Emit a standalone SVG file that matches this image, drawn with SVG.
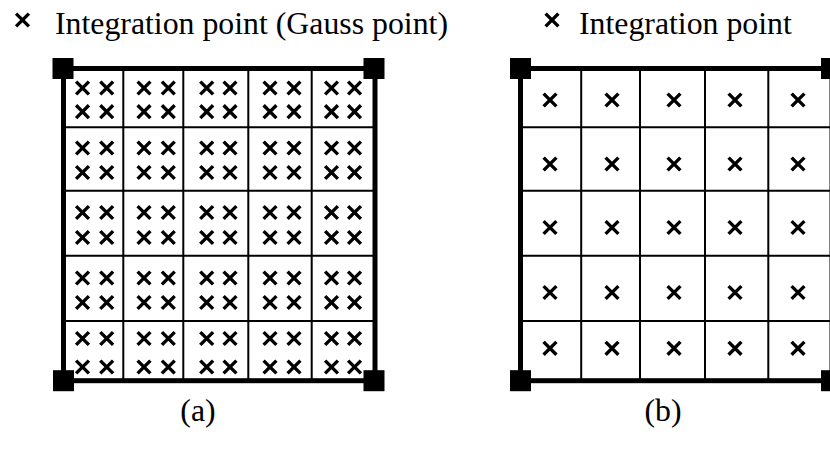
<svg xmlns="http://www.w3.org/2000/svg" xmlns:xlink="http://www.w3.org/1999/xlink" width="830" height="450" viewBox="0 0 830 450">
<style>
.lbl{font-family:"Liberation Serif","Times New Roman",serif;font-size:31.8px;fill:#000}
.frame{fill:none;stroke:#000;stroke-width:5}
.grid{stroke:#000;stroke-width:2;fill:none}
.node{fill:#000}
</style>
<defs>
<path id="x" d="M-6.4,-6.4L6.4,6.4M6.4,-6.4L-6.4,6.4" stroke="#000" stroke-width="3.4" fill="none"/>
</defs>
<rect width="830" height="450" fill="#fff"/>
<g id="legend-a">
<use href="#x" x="22.5" y="20"/>
<text class="lbl" x="55" y="34">Integration point (Gauss point)</text>
</g>
<g id="legend-b">
<use href="#x" x="552" y="20"/>
<text class="lbl" x="579" y="34">Integration point</text>
</g>
<g id="panel-a">
<g class="grid">
<path d="M123.3,68.5V380.7M183.3,68.5V380.7M248.3,68.5V380.7M311.7,68.5V380.7M63.5,127.3H375M63.5,190.7H375M63.5,255.7H375M63.5,321H375"/>
</g>
<g id="gauss-points">
<g id="ra1"><use href="#x" x="82.5" y="88"/><use href="#x" x="106.7" y="88"/><use href="#x" x="144" y="88"/><use href="#x" x="168.3" y="88"/><use href="#x" x="206.7" y="88"/><use href="#x" x="230" y="88"/><use href="#x" x="270" y="88"/><use href="#x" x="294" y="88"/><use href="#x" x="331.5" y="88"/><use href="#x" x="354.5" y="88"/></g>
<g id="ra2"><use href="#x" x="82.5" y="111.7"/><use href="#x" x="106.7" y="111.7"/><use href="#x" x="144" y="111.7"/><use href="#x" x="168.3" y="111.7"/><use href="#x" x="206.7" y="111.7"/><use href="#x" x="230" y="111.7"/><use href="#x" x="270" y="111.7"/><use href="#x" x="294" y="111.7"/><use href="#x" x="331.5" y="111.7"/><use href="#x" x="354.5" y="111.7"/></g>
<g id="ra3"><use href="#x" x="82.5" y="148"/><use href="#x" x="106.7" y="148"/><use href="#x" x="144" y="148"/><use href="#x" x="168.3" y="148"/><use href="#x" x="206.7" y="148"/><use href="#x" x="230" y="148"/><use href="#x" x="270" y="148"/><use href="#x" x="294" y="148"/><use href="#x" x="331.5" y="148"/><use href="#x" x="354.5" y="148"/></g>
<g id="ra4"><use href="#x" x="82.5" y="172.5"/><use href="#x" x="106.7" y="172.5"/><use href="#x" x="144" y="172.5"/><use href="#x" x="168.3" y="172.5"/><use href="#x" x="206.7" y="172.5"/><use href="#x" x="230" y="172.5"/><use href="#x" x="270" y="172.5"/><use href="#x" x="294" y="172.5"/><use href="#x" x="331.5" y="172.5"/><use href="#x" x="354.5" y="172.5"/></g>
<g id="ra5"><use href="#x" x="82.5" y="212.5"/><use href="#x" x="106.7" y="212.5"/><use href="#x" x="144" y="212.5"/><use href="#x" x="168.3" y="212.5"/><use href="#x" x="206.7" y="212.5"/><use href="#x" x="230" y="212.5"/><use href="#x" x="270" y="212.5"/><use href="#x" x="294" y="212.5"/><use href="#x" x="331.5" y="212.5"/><use href="#x" x="354.5" y="212.5"/></g>
<g id="ra6"><use href="#x" x="82.5" y="237.5"/><use href="#x" x="106.7" y="237.5"/><use href="#x" x="144" y="237.5"/><use href="#x" x="168.3" y="237.5"/><use href="#x" x="206.7" y="237.5"/><use href="#x" x="230" y="237.5"/><use href="#x" x="270" y="237.5"/><use href="#x" x="294" y="237.5"/><use href="#x" x="331.5" y="237.5"/><use href="#x" x="354.5" y="237.5"/></g>
<g id="ra7"><use href="#x" x="82.5" y="278"/><use href="#x" x="106.7" y="278"/><use href="#x" x="144" y="278"/><use href="#x" x="168.3" y="278"/><use href="#x" x="206.7" y="278"/><use href="#x" x="230" y="278"/><use href="#x" x="270" y="278"/><use href="#x" x="294" y="278"/><use href="#x" x="331.5" y="278"/><use href="#x" x="354.5" y="278"/></g>
<g id="ra8"><use href="#x" x="82.5" y="302.5"/><use href="#x" x="106.7" y="302.5"/><use href="#x" x="144" y="302.5"/><use href="#x" x="168.3" y="302.5"/><use href="#x" x="206.7" y="302.5"/><use href="#x" x="230" y="302.5"/><use href="#x" x="270" y="302.5"/><use href="#x" x="294" y="302.5"/><use href="#x" x="331.5" y="302.5"/><use href="#x" x="354.5" y="302.5"/></g>
<g id="ra9"><use href="#x" x="82.5" y="338.5"/><use href="#x" x="106.7" y="338.5"/><use href="#x" x="144" y="338.5"/><use href="#x" x="168.3" y="338.5"/><use href="#x" x="206.7" y="338.5"/><use href="#x" x="230" y="338.5"/><use href="#x" x="270" y="338.5"/><use href="#x" x="294" y="338.5"/><use href="#x" x="331.5" y="338.5"/><use href="#x" x="354.5" y="338.5"/></g>
<g id="ra10"><use href="#x" x="82.5" y="367"/><use href="#x" x="106.7" y="367"/><use href="#x" x="144" y="367"/><use href="#x" x="168.3" y="367"/><use href="#x" x="206.7" y="367"/><use href="#x" x="230" y="367"/><use href="#x" x="270" y="367"/><use href="#x" x="294" y="367"/><use href="#x" x="331.5" y="367"/><use href="#x" x="354.5" y="367"/></g>
</g>
<rect class="frame" x="63.5" y="68.5" width="311.5" height="312.2"/>
<g id="nodes-a">
<rect class="node" x="52.5" y="58" width="21" height="21"/>
<rect class="node" x="363.5" y="58" width="21" height="21"/>
<rect class="node" x="53" y="370.2" width="21" height="21"/>
<rect class="node" x="363.5" y="370.2" width="21" height="21"/>
</g>
<text class="lbl" x="198" y="421" text-anchor="middle">(a)</text>
</g>
<g id="panel-b">
<g class="grid">
<path d="M581.2,68.5V380.7M640,68.5V380.7M705,68.5V380.7M768.3,68.5V380.7M520.5,127.3H832M520.5,190.7H832M520.5,255.7H832M520.5,321H832"/>
</g>
<g id="integration-points">
<g><use href="#x" x="550" y="100"/><use href="#x" x="612" y="100"/><use href="#x" x="674" y="100"/><use href="#x" x="735" y="100"/><use href="#x" x="798" y="100"/></g>
<g><use href="#x" x="550" y="164"/><use href="#x" x="612" y="164"/><use href="#x" x="674" y="164"/><use href="#x" x="735" y="164"/><use href="#x" x="798" y="164"/></g>
<g><use href="#x" x="550" y="227.5"/><use href="#x" x="612" y="227.5"/><use href="#x" x="674" y="227.5"/><use href="#x" x="735" y="227.5"/><use href="#x" x="798" y="227.5"/></g>
<g><use href="#x" x="550" y="292.5"/><use href="#x" x="612" y="292.5"/><use href="#x" x="674" y="292.5"/><use href="#x" x="735" y="292.5"/><use href="#x" x="798" y="292.5"/></g>
<g><use href="#x" x="550" y="348.3"/><use href="#x" x="612" y="348.3"/><use href="#x" x="674" y="348.3"/><use href="#x" x="735" y="348.3"/><use href="#x" x="798" y="348.3"/></g>
</g>
<rect class="frame" x="520.5" y="68.5" width="311.5" height="312.2"/>
<g id="nodes-b">
<rect class="node" x="510" y="58" width="21" height="21"/>
<rect class="node" x="821" y="58" width="21" height="21"/>
<rect class="node" x="510" y="370.2" width="21" height="21"/>
<rect class="node" x="821" y="370.2" width="21" height="21"/>
</g>
<text class="lbl" x="663" y="421" text-anchor="middle">(b)</text>
</g>
</svg>
